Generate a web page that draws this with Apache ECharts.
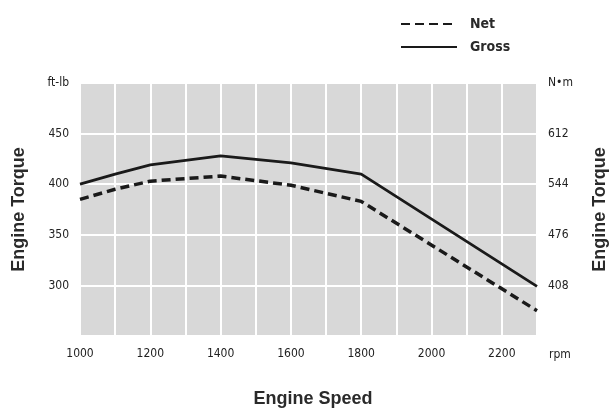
<!DOCTYPE html>
<html><head><meta charset="utf-8">
<script src="https://cdn.jsdelivr.net/npm/echarts@6/dist/echarts.min.js"></script>
<style>html,body{margin:0;padding:0;background:#fff}#c{width:611px;height:408px}</style>
</head><body><div id="c"></div>
<script>
const rpm = [1000, 1100, 1200, 1400, 1600, 1800, 2300];
const netTorque = [385, 395, 403, 408, 399, 383, 275];
const grossTorque = [400, 410, 419, 428, 421, 410, 299];
const xTickLabels = {1000:'1000',1200:'1200',1400:'1400',1600:'1600',1800:'1800',2000:'2000',2200:'2200'};
const leftTickLabels = {300:'300',350:'350',400:'400',450:'450',500:'ft-lb'};
const rightTickLabels = {408:'408',476:'476',544:'544',612:'612',680:'N\u2022m'};

const narrow = '"Liberation Sans Narrow","DejaVu Sans Condensed",sans-serif';
const chart = echarts.init(document.getElementById('c'));
chart.setOption({
  animation: false,
  title: {
    text: 'Engine Speed', left: 308, top: 385, textAlign: 'center',
    textStyle: {fontFamily: '"Liberation Sans",sans-serif', fontSize: 18, fontWeight: 'bold', color: '#2a2a2a'}
  },
  legend: {
    orient: 'vertical', left: 395, top: 12, itemWidth: 56, itemHeight: 14, itemGap: 9,
    data: ['Net', 'Gross'],
    itemStyle: {opacity: 0},
    textStyle: {fontFamily: narrow, fontSize: 14, fontWeight: 'bold', color: '#2a2a2a', padding: [0,0,0,8]}
  },
  grid: {left: 80, right: 74, top: 83, bottom: 72, containLabel: false, outerBoundsMode: 'none',
         show: true, backgroundColor: '#d8d8d8', borderWidth: 0},
  xAxis: {
    type: 'value', min: 1000, max: 2300, interval: 100,
    name: 'rpm', nameLocation: 'end', nameGap: 12,
    nameTextStyle: {fontFamily: narrow, fontSize: 12, color: '#222', verticalAlign: 'top', padding: [13,0,0,0]},
    axisLine: {show: false}, axisTick: {show: false},
    axisLabel: {margin: 12, fontFamily: narrow, fontSize: 12, color: '#222', formatter: v => xTickLabels[v] || ''},
    splitLine: {show: true, lineStyle: {color: '#ffffff', width: 2}}
  },
  yAxis: [{
    type: 'value', min: 250, max: 500, interval: 50, position: 'left',
    name: 'Engine Torque', nameLocation: 'middle', nameGap: 52, nameRotate: 90,
    nameTextStyle: {fontFamily: '"Liberation Sans",sans-serif', fontSize: 18, fontWeight: 'bold', color: '#2a2a2a'},
    axisLine: {show: false}, axisTick: {show: false},
    axisLabel: {margin: 11, fontFamily: narrow, fontSize: 12, color: '#222', formatter: v => leftTickLabels[v] || ''},
    splitLine: {show: true, lineStyle: {color: '#ffffff', width: 2}}
  }, {
    type: 'value', min: 340, max: 680, interval: 68, position: 'right',
    name: 'Engine Torque', nameLocation: 'middle', nameGap: 54, nameRotate: 90,
    nameTextStyle: {fontFamily: '"Liberation Sans",sans-serif', fontSize: 18, fontWeight: 'bold', color: '#2a2a2a'},
    axisLine: {show: false}, axisTick: {show: false},
    axisLabel: {margin: 11, fontFamily: narrow, fontSize: 12, color: '#222', formatter: v => rightTickLabels[v] || ''},
    splitLine: {show: false}
  }],
  series: [{
    name: 'Net', type: 'line', yAxisIndex: 0, symbol: 'none',
    data: rpm.map((x, i) => [x, netTorque[i]]),
    lineStyle: {color: '#1a1a1a', width: 3.5, type: [9, 5]},
    itemStyle: {color: '#1a1a1a'}
  }, {
    name: 'Gross', type: 'line', yAxisIndex: 0, symbol: 'none',
    data: rpm.map((x, i) => [x, grossTorque[i]]),
    lineStyle: {color: '#1a1a1a', width: 2.8, type: 'solid'},
    itemStyle: {color: '#1a1a1a'}
  }]
});
</script></body></html>
